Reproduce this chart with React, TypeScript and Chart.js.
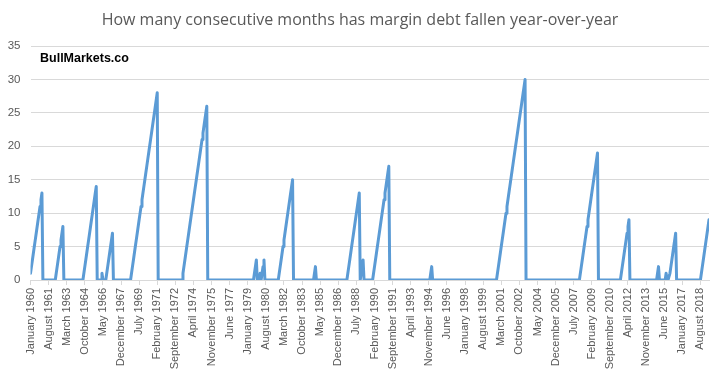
import React, { useEffect, useRef } from "react";
import { Chart, registerables } from "chart.js";

Chart.register(...registerables);

const TITLE = "How many consecutive months has margin debt fallen year-over-year";
const WATERMARK = "BullMarkets.co";

// x-axis labels, one every 19 months starting January 1960
const TICK_EVERY = 19;
const TICK_LABELS: string[] = [
  "January 1960", "August 1961", "March 1963", "October 1964", "May 1966",
  "December 1967", "July 1969", "February 1971", "September 1972", "April 1974",
  "November 1975", "June 1977", "January 1979", "August 1980", "March 1982",
  "October 1983", "May 1985", "December 1986", "July 1988", "February 1990",
  "September 1991", "April 1993", "November 1994", "June 1996", "January 1998",
  "August 1999", "March 2001", "October 2002", "May 2004", "December 2005",
  "July 2007", "February 2009", "September 2010", "April 2012", "November 2013",
  "June 2015", "January 2017", "August 2018",
];

// consecutive months of year-over-year decline, monthly (Jan..Dec per row)
const STREAK_1960S: number[] = [
  1, 2, 3, 4, 5, 6, 7, 8, 9, 10, 11, 12, // 1960
  13, 0, 0, 0, 0, 0, 0, 0, 0, 0, 0, 0, // 1961
  0, 0, 0, 1, 2, 3, 4, 5, 6, 7, 8, 0, // 1962
  0, 0, 0, 0, 0, 0, 0, 0, 0, 0, 0, 0, // 1963
  0, 0, 0, 0, 0, 0, 0, 0, 1, 2, 3, 4, // 1964
  5, 6, 7, 8, 9, 10, 11, 12, 13, 14, 0, 0, // 1965
  0, 0, 0, 1, 0, 0, 0, 0, 1, 2, 3, 4, // 1966
  5, 6, 7, 0, 0, 0, 0, 0, 0, 0, 0, 0, // 1967
  0, 0, 0, 0, 0, 0, 0, 0, 0, 0, 1, 2, // 1968
  3, 4, 5, 6, 7, 8, 9, 10, 11, 12, 13, 14, // 1969
];
const STREAK_1970S: number[] = [
  15, 16, 17, 18, 19, 20, 21, 22, 23, 24, 25, 26, // 1970
  27, 28, 0, 0, 0, 0, 0, 0, 0, 0, 0, 0, // 1971
  0, 0, 0, 0, 0, 0, 0, 0, 0, 0, 0, 0, // 1972
  0, 0, 0, 0, 1, 2, 3, 4, 5, 6, 7, 8, // 1973
  9, 10, 11, 12, 13, 14, 15, 16, 17, 18, 19, 20, // 1974
  21, 22, 23, 24, 25, 26, 0, 0, 0, 0, 0, 0, // 1975
  0, 0, 0, 0, 0, 0, 0, 0, 0, 0, 0, 0, // 1976
  0, 0, 0, 0, 0, 0, 0, 0, 0, 0, 0, 0, // 1977
  0, 0, 0, 0, 0, 0, 0, 0, 0, 0, 0, 0, // 1978
  0, 0, 0, 0, 0, 0, 0, 1, 2, 3, 0, 0, // 1979
];
const STREAK_1980S: number[] = [
  0, 1, 0, 1, 2, 3, 0, 0, 0, 0, 0, 0, // 1980
  0, 0, 0, 0, 0, 0, 0, 0, 0, 1, 2, 3, // 1981
  4, 5, 6, 7, 8, 9, 10, 11, 12, 13, 14, 15, // 1982
  0, 0, 0, 0, 0, 0, 0, 0, 0, 0, 0, 0, // 1983
  0, 0, 0, 0, 0, 0, 0, 0, 0, 0, 1, 2, // 1984
  0, 0, 0, 0, 0, 0, 0, 0, 0, 0, 0, 0, // 1985
  0, 0, 0, 0, 0, 0, 0, 0, 0, 0, 0, 0, // 1986
  0, 0, 0, 0, 0, 0, 0, 0, 0, 1, 2, 3, // 1987
  4, 5, 6, 7, 8, 9, 10, 11, 12, 13, 0, 1, // 1988
  2, 3, 0, 0, 0, 0, 0, 0, 0, 0, 0, 0, // 1989
];
const STREAK_1990S: number[] = [
  1, 2, 3, 4, 5, 6, 7, 8, 9, 10, 11, 12, // 1990
  13, 14, 15, 16, 17, 0, 0, 0, 0, 0, 0, 0, // 1991
  0, 0, 0, 0, 0, 0, 0, 0, 0, 0, 0, 0, // 1992
  0, 0, 0, 0, 0, 0, 0, 0, 0, 0, 0, 0, // 1993
  0, 0, 0, 0, 0, 0, 0, 0, 0, 0, 0, 0, // 1994
  1, 2, 0, 0, 0, 0, 0, 0, 0, 0, 0, 0, // 1995
  0, 0, 0, 0, 0, 0, 0, 0, 0, 0, 0, 0, // 1996
  0, 0, 0, 0, 0, 0, 0, 0, 0, 0, 0, 0, // 1997
  0, 0, 0, 0, 0, 0, 0, 0, 0, 0, 0, 0, // 1998
  0, 0, 0, 0, 0, 0, 0, 0, 0, 0, 0, 0, // 1999
];
const STREAK_2000S: number[] = [
  0, 0, 0, 0, 0, 0, 0, 0, 0, 0, 1, 2, // 2000
  3, 4, 5, 6, 7, 8, 9, 10, 11, 12, 13, 14, // 2001
  15, 16, 17, 18, 19, 20, 21, 22, 23, 24, 25, 26, // 2002
  27, 28, 29, 30, 0, 0, 0, 0, 0, 0, 0, 0, // 2003
  0, 0, 0, 0, 0, 0, 0, 0, 0, 0, 0, 0, // 2004
  0, 0, 0, 0, 0, 0, 0, 0, 0, 0, 0, 0, // 2005
  0, 0, 0, 0, 0, 0, 0, 0, 0, 0, 0, 0, // 2006
  0, 0, 0, 0, 0, 0, 0, 0, 0, 0, 0, 0, // 2007
  0, 1, 2, 3, 4, 5, 6, 7, 8, 9, 10, 11, // 2008
  12, 13, 14, 15, 16, 17, 18, 19, 0, 0, 0, 0, // 2009
];
const STREAK_2010S: number[] = [
  0, 0, 0, 0, 0, 0, 0, 0, 0, 0, 0, 0, // 2010
  0, 0, 0, 0, 0, 0, 0, 0, 1, 2, 3, 4, // 2011
  5, 6, 7, 8, 9, 0, 0, 0, 0, 0, 0, 0, // 2012
  0, 0, 0, 0, 0, 0, 0, 0, 0, 0, 0, 0, // 2013
  0, 0, 0, 0, 0, 0, 0, 0, 0, 0, 1, 2, // 2014
  0, 0, 0, 0, 0, 0, 0, 1, 0, 0, 0, 1, // 2015
  2, 3, 4, 5, 6, 7, 0, 0, 0, 0, 0, 0, // 2016
  0, 0, 0, 0, 0, 0, 0, 0, 0, 0, 0, 0, // 2017
  0, 0, 0, 0, 0, 0, 0, 0, 1, 2, 3, 4, // 2018
  5, 6, 7, 8, 9, // 2019
];

const STREAK: number[] = [
  ...STREAK_1960S, ...STREAK_1970S, ...STREAK_1980S,
  ...STREAK_1990S, ...STREAK_2000S, ...STREAK_2010S,
];

const Y_MIN = 0;
const Y_MAX = 35;
const Y_STEP = 5;

const GRID = "#D9D9D9";
const TEXT = "#595959";
const LINE = "#5B9BD5";

const textPlugin = {
  id: "staticTexts",
  afterDraw(chart: any) {
    const ctx = chart.ctx;
    ctx.save();
    ctx.fillStyle = TEXT;
    ctx.font = '16px "Open Sans"';
    ctx.textAlign = "center";
    ctx.textBaseline = "middle";
    ctx.fillText(TITLE, chart.width / 2, 20);
    ctx.fillStyle = "#000000";
    ctx.font = 'bold 12.5px "Liberation Sans"';
    ctx.textAlign = "left";
    ctx.fillText(WATERMARK, 40, 59);
    ctx.restore();
  },
};

export default function App() {
  const ref = useRef<HTMLCanvasElement>(null);

  useEffect(() => {
    if (!ref.current) return;
    const points = STREAK.map((y, x) => ({ x, y }));
    const chart = new Chart(ref.current, {
      type: "line",
      data: {
        datasets: [
          {
            data: points,
            borderColor: LINE,
            backgroundColor: LINE,
            borderWidth: 3,
            pointRadius: 0,
            pointHoverRadius: 0,
            tension: 0,
            fill: false,
            borderJoinStyle: "round",
            borderCapStyle: "round",
          },
        ],
      },
      options: {
        responsive: false,
        animation: false,
        events: [],
        layout: { padding: { top: 46, right: 11, left: 0, bottom: 0 } },
        plugins: {
          legend: { display: false },
          title: { display: false },
          tooltip: { enabled: false },
        },
        scales: {
          x: {
            type: "linear",
            min: 0,
            max: STREAK.length - 1,
            afterBuildTicks: (scale: any) => {
              scale.ticks = TICK_LABELS.map((_, i) => ({ value: i * TICK_EVERY }));
            },
            afterFit: (scale: any) => {
              scale.height = 92;
            },
            grid: {
              drawOnChartArea: false,
              drawTicks: true,
              tickLength: 5,
              color: GRID,
            },
            border: { display: true, color: GRID, width: 1 },
            ticks: {
              autoSkip: false,
              minRotation: 90,
              maxRotation: 90,
              padding: 3,
              color: TEXT,
              font: { family: '"Liberation Sans", Arial, sans-serif', size: 11 },
              callback: (v: any) => TICK_LABELS[Math.round(Number(v) / TICK_EVERY)] ?? "",
            },
          },
          y: {
            min: Y_MIN,
            max: Y_MAX,
            afterFit: (scale: any) => {
              scale.width = 30.5;
            },
            grid: { color: GRID, drawTicks: false, lineWidth: 1 },
            border: { display: false },
            ticks: {
              stepSize: Y_STEP,
              padding: 10,
              color: TEXT,
              font: { family: '"Liberation Sans", Arial, sans-serif', size: 11.5 },
            },
          },
        },
      },
      plugins: [textPlugin],
    } as any);
    return () => chart.destroy();
  }, []);

  return (
    <div style={{ position: "absolute", left: 0, top: 0, width: 720, height: 372, background: "#fff" }}>
      <canvas ref={ref} width={720} height={372} style={{ display: "block" }} />
    </div>
  );
}
